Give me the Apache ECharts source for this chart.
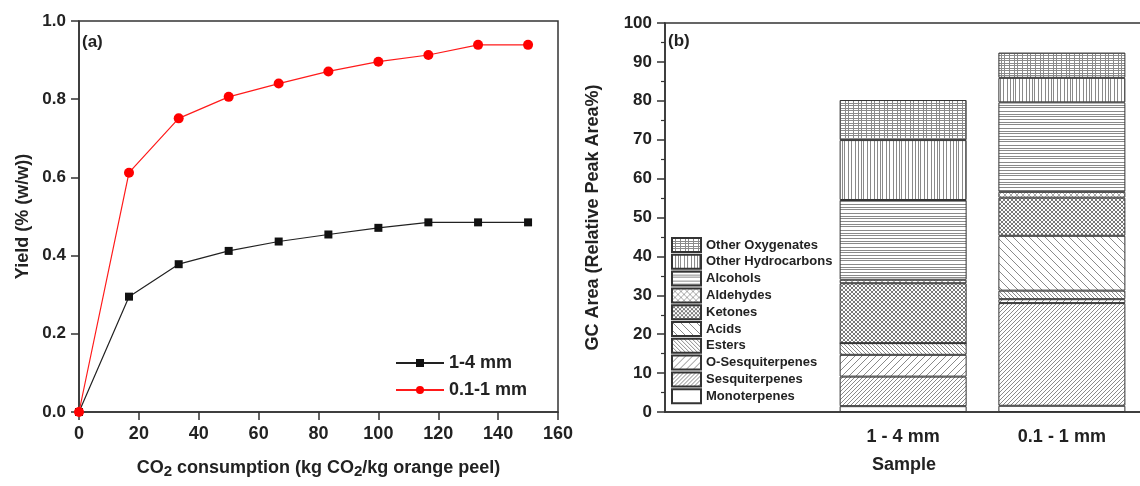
<!DOCTYPE html>
<html>
<head>
<meta charset="utf-8">
<style>
html,body{margin:0;padding:0;background:#fff;}
#chart{width:1140px;height:486px;}
</style>
<script src="https://cdn.jsdelivr.net/npm/echarts@6/dist/echarts.min.js"></script>
</head>
<body>
<div id="chart"></div>
<script>
// ---------- Data: panel (a) ----------
const co2Consumption = [0, 16.7, 33.3, 50, 66.7, 83.3, 100, 116.7, 133.3, 150];
const yield14mm = [0, 0.295, 0.378, 0.412, 0.436, 0.454, 0.471, 0.485, 0.485, 0.485];
const yield011mm = [0, 0.612, 0.751, 0.806, 0.840, 0.871, 0.896, 0.913, 0.939, 0.939];
const xTicksA = [0, 20, 40, 60, 80, 100, 120, 140, 160];

// ---------- Data: panel (b) ----------
const sampleCategories = ['', '1 - 4 mm', '0.1 - 1 mm', ' '];
const classNames = ['Monoterpenes', 'Sesquiterpenes', 'O-Sesquiterpenes', 'Esters', 'Acids',
  'Ketones', 'Aldehydes', 'Alcohols', 'Other Hydrocarbons', 'Other Oxygenates'];
// values per class: [1 - 4 mm, 0.1 - 1 mm]
const monoterpenes = [1.5, 1.6];
const sesquiterpenes = [7.6, 26.4];
const oSesquiterpenes = [5.6, 1.0];
const esters = [3.0, 2.2];
const acids = [0, 14.1];
const ketones = [15.4, 9.8];
const aldehydes = [0.9, 1.5];
const alcohols = [20.5, 23.0];
const otherHydrocarbons = [15.4, 6.3];
const otherOxygenates = [10.3, 6.5];

const classValues = [monoterpenes, sesquiterpenes, oSesquiterpenes, esters, acids,
  ketones, aldehydes, alcohols, otherHydrocarbons, otherOxygenates];

// ---------- Patterns ----------
function pattern(w, h, draw) {
  const c = document.createElement('canvas');
  c.width = w; c.height = h;
  const g = c.getContext('2d');
  g.fillStyle = '#fff';
  g.fillRect(0, 0, w, h);
  g.lineWidth = 1;
  draw(g, w, h);
  return { image: c, repeat: 'repeat' };
}
function diagUp(s, col) {
  return pattern(s, s, (g) => {
    g.strokeStyle = col;
    g.beginPath();
    g.moveTo(0, s); g.lineTo(s, 0);
    g.moveTo(-1, 1); g.lineTo(1, -1);
    g.moveTo(s - 1, s + 1); g.lineTo(s + 1, s - 1);
    g.stroke();
  });
}
function diagDown(s, col) {
  return pattern(s, s, (g) => {
    g.strokeStyle = col;
    g.beginPath();
    g.moveTo(0, 0); g.lineTo(s, s);
    g.moveTo(-1, s - 1); g.lineTo(1, s + 1);
    g.moveTo(s - 1, -1); g.lineTo(s + 1, 1);
    g.stroke();
  });
}
function cross(s, col) {
  return pattern(s, s, (g) => {
    g.strokeStyle = col;
    g.beginPath();
    g.moveTo(0, 0); g.lineTo(s, s);
    g.moveTo(-1, s - 1); g.lineTo(1, s + 1);
    g.moveTo(s - 1, -1); g.lineTo(s + 1, 1);
    g.moveTo(0, s); g.lineTo(s, 0);
    g.moveTo(-1, 1); g.lineTo(1, -1);
    g.moveTo(s - 1, s + 1); g.lineTo(s + 1, s - 1);
    g.stroke();
  });
}
function hLines(h, ys, col) {
  return pattern(4, h, (g, w) => { g.fillStyle = col; ys.forEach(y => g.fillRect(0, y, w, 1)); });
}
function vLines(w, xs, col) {
  return pattern(w, 4, (g, ww, hh) => { g.fillStyle = col; xs.forEach(x => g.fillRect(x, 0, 1, hh)); });
}
function gridLines(w, h, xs, ys, col) {
  return pattern(w, h, (g) => {
    g.fillStyle = col;
    xs.forEach(x => g.fillRect(x, 0, 1, h));
    ys.forEach(y => g.fillRect(0, y, w, 1));
  });
}
const fills = [
  '#ffffff',
  diagUp(4, '#8a8a8a'),
  diagUp(7, '#8a8a8a'),
  diagDown(4, '#8a8a8a'),
  diagDown(8, '#8a8a8a'),
  cross(4, '#7a7a7a'),
  cross(6, '#aaaaaa'),
  hLines(17, [0, 3, 5, 9, 12, 14], '#8a8a8a'),
  vLines(19, [0, 3, 6, 8, 12, 15], '#8a8a8a'),
  gridLines(13, 5, [0, 3, 8], [0, 3], '#8a8a8a')
];

// ---------- Chart ----------
const chart = echarts.init(document.getElementById('chart'), null, { renderer: 'canvas' });
const FONT = 'Liberation Sans, Arial, sans-serif';
const TXT = '#222';
const AX = '#333';

const barSeries = classNames.map((name, i) => ({
  name: name,
  type: 'bar',
  xAxisIndex: 1,
  yAxisIndex: 1,
  stack: 'gc',
  barWidth: '80%',
  itemStyle: { color: fills[i], borderColor: '#333', borderWidth: 1 },
  emphasis: { disabled: true },
  data: ['-', classValues[i][0], classValues[i][1], '-']
}));

const option = {
  backgroundColor: '#fff',
  animation: false,
  textStyle: { fontFamily: FONT },
  grid: [
    { left: 79, top: 21, width: 479, height: 391, outerBoundsMode: 'none', containLabel: false, show: true, borderColor: AX, borderWidth: 1.5, backgroundColor: 'transparent' },
    { left: 665, top: 23, width: 635, height: 389, outerBoundsMode: 'none', containLabel: false, show: true, borderColor: AX, borderWidth: 1.5, backgroundColor: 'transparent' }
  ],
  xAxis: [
    {
      gridIndex: 0, type: 'value', min: xTicksA[0], max: xTicksA[xTicksA.length - 1], interval: 20,
      axisLine: { lineStyle: { color: AX, width: 1.5 } },
      axisTick: { inside: false, length: 8, lineStyle: { color: AX, width: 1.5 } },
      axisLabel: { margin: 13, color: TXT, fontSize: 18, fontWeight: 'bold', fontFamily: FONT },
      splitLine: { show: false },
      name: '{a|CO}{s|2}{a| consumption (kg CO}{s|2}{a|/kg orange peel)}',
      nameLocation: 'middle', nameGap: 47,
      nameTextStyle: {
        rich: {
          a: { fontSize: 18, fontWeight: 'bold', color: TXT, fontFamily: FONT, lineHeight: 20, verticalAlign: 'top' },
          s: { fontSize: 15, fontWeight: 'bold', color: TXT, fontFamily: FONT, lineHeight: 2, verticalAlign: 'bottom' }
        }
      }
    },
    {
      gridIndex: 1, type: 'category', data: sampleCategories,
      axisLine: { lineStyle: { color: AX, width: 1.5 } },
      axisTick: { inside: false, alignWithLabel: true, length: 8, lineStyle: { color: AX, width: 1.5 } },
      axisLabel: { margin: 16, color: TXT, fontSize: 18, fontWeight: 'bold', fontFamily: FONT, interval: 0 },
      splitLine: { show: false }
    }
  ],
  yAxis: [
    {
      gridIndex: 0, type: 'value', min: 0, max: 1, interval: 0.2,
      axisLine: { show: true, lineStyle: { color: AX, width: 1.5 } },
      axisTick: { show: true, inside: false, length: 8, lineStyle: { color: AX, width: 1.5 } },
      axisLabel: { margin: 13, color: TXT, fontSize: 17, fontWeight: 'bold', fontFamily: FONT, formatter: v => v.toFixed(1) },
      splitLine: { show: false },
      name: 'Yield (% (w/w))', nameLocation: 'middle', nameGap: 47,
      nameTextStyle: { fontSize: 18, fontWeight: 'bold', color: TXT, fontFamily: FONT }
    },
    {
      gridIndex: 1, type: 'value', min: 0, max: 100, interval: 10,
      axisLine: { show: true, lineStyle: { color: AX, width: 1.5 } },
      axisTick: { show: true, inside: false, length: 8, lineStyle: { color: AX, width: 1.5 } },
      minorTick: { show: true, splitNumber: 2, length: 4, lineStyle: { color: AX, width: 1.2 } },
      axisLabel: { margin: 13, color: TXT, fontSize: 17, fontWeight: 'bold', fontFamily: FONT },
      splitLine: { show: false },
      name: 'GC Area (Relative Peak Area%)', nameLocation: 'middle', nameGap: 63,
      nameTextStyle: { fontSize: 18, fontWeight: 'bold', color: TXT, fontFamily: FONT }
    }
  ],
  legend: [
    {
      data: ['1-4 mm', '0.1-1 mm'],
      orient: 'vertical', left: 395, top: 354, padding: 0,
      itemWidth: 48, itemHeight: 10, itemGap: 9,
      selectedMode: false,
      textStyle: { fontSize: 18, fontWeight: 'bold', color: TXT, fontFamily: FONT }
    },
    {
      data: classNames.slice().reverse(),
      orient: 'vertical', left: 671, top: 237, padding: 0,
      icon: 'rect',
      itemWidth: 29, itemHeight: 14, itemGap: 0.8,
      selectedMode: false,
      textStyle: { fontSize: 13, fontWeight: 'bold', color: TXT, fontFamily: FONT }
    }
  ],
  graphic: [
    { type: 'text', x: 82, y: 34, style: { text: '(a)', font: 'bold 17px ' + FONT, fill: TXT } },
    { type: 'text', x: 668, y: 33, style: { text: '(b)', font: 'bold 17px ' + FONT, fill: TXT } },
    { type: 'text', x: 904, y: 456, style: { text: 'Sample', font: 'bold 18px ' + FONT, fill: TXT, textAlign: 'center' } }
  ],
  series: [
    {
      name: '1-4 mm', type: 'line', xAxisIndex: 0, yAxisIndex: 0,
      data: co2Consumption.map((x, i) => [x, yield14mm[i]]),
      symbol: 'rect', symbolSize: 8,
      lineStyle: { color: '#222', width: 1.2 },
      itemStyle: { color: '#111' },
      emphasis: { disabled: true }
    },
    {
      name: '0.1-1 mm', type: 'line', xAxisIndex: 0, yAxisIndex: 0,
      data: co2Consumption.map((x, i) => [x, yield011mm[i]]),
      symbol: 'circle', symbolSize: 10,
      lineStyle: { color: '#ff1a1a', width: 1.2 },
      itemStyle: { color: '#f00' },
      emphasis: { disabled: true }
    }
  ].concat(barSeries)
};
chart.setOption(option);
</script>
</body>
</html>
